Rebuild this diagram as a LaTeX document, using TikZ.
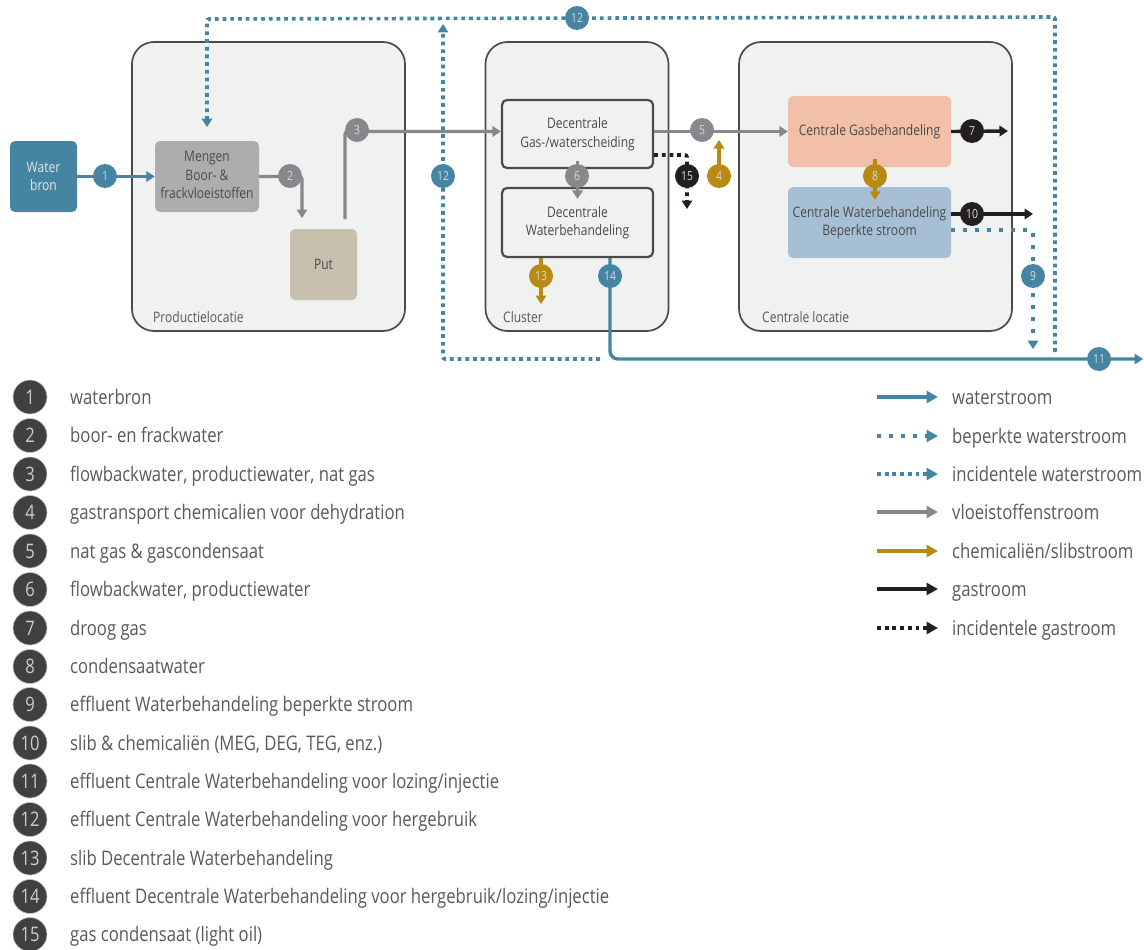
\documentclass[tikz,border=0pt]{standalone}
\usepackage{fontspec}
\setmainfont[FakeStretch=0.83]{Open Sans}
\usetikzlibrary{arrows.meta,calc}
\definecolor{wtr}{HTML}{4585A3}
\definecolor{gry}{HTML}{86888B}
\definecolor{gld}{HTML}{B98A13}
\definecolor{blk}{HTML}{231F20}
\definecolor{dkc}{HTML}{3F4042}
\definecolor{pane}{HTML}{F0F2F1}
\definecolor{edge}{HTML}{4A4A4A}
\definecolor{txt}{HTML}{58595B}
\definecolor{putc}{HTML}{C8BFAE}
\definecolor{gasc}{HTML}{F2BFA8}
\definecolor{wbc}{HTML}{A7BFD4}
\tikzset{
  x=1pt,y=-1pt,
  tip/.style={-{Triangle[length=8.5pt,width=10.5pt]}},
  bigtip/.style={-{Triangle[length=11.5pt,width=12pt]}},
  solidflow/.style={tip,line width=3.4pt,rounded corners=3pt},
  wflow/.style={solidflow,draw=wtr},
  gflow/.style={solidflow,draw=gry},
  cflow/.style={solidflow,draw=gld},
  bflow/.style={solidflow,draw=blk},
  incid/.style={tip,line width=3.6pt,dash pattern=on 3.8pt off 3.9pt,rounded corners=2pt},
  limited/.style={tip,line width=3.6pt,dash pattern=on 3.6pt off 8.4pt,rounded corners=2pt},
  iwflow/.style={incid,draw=wtr},
  ibflow/.style={incid,draw=blk},
  lwflow/.style={limited,draw=wtr},
  legline/.style={line width=4pt,bigtip},
  pane/.style={draw=edge,fill=pane,line width=1.7pt,rounded corners=22pt,inner sep=0pt},
  panelabel/.style={anchor=base west,text=txt,font=\fontsize{14.5}{18}\selectfont,inner sep=0pt},
  boxtext/.style={inner sep=0pt,align=center,text=edge,font=\fontsize{14.5}{18.5}\selectfont},
  fillbox/.style={boxtext,rounded corners=5pt},
  outline/.style={boxtext,draw=edge,line width=2.2pt,rounded corners=5pt,fill=pane},
  flow/.style={circle,inner sep=0pt,minimum size=24pt,text=white!85!black,font=\fontsize{12.5}{14}\selectfont},
  lnum/.style={circle,inner sep=0pt,minimum size=34pt,fill=dkc,draw=gry!50,line width=.6pt,text=white!80!black,font=\fontsize{20}{22}\selectfont},
  ltext/.style={anchor=west,inner sep=0pt,text=txt,text height=14pt,text depth=4pt,font=\fontsize{20.1}{22}\selectfont},
}
\begin{document}
\begin{tikzpicture}
\useasboundingbox (0,0) rectangle (1144,950);
% panes
\node[pane,minimum width=273pt,minimum height=289pt] (prod) at (268.5,186.5) {};
\node[pane,minimum width=183pt,minimum height=289pt] (clus) at (577,186.5) {};
\node[pane,minimum width=273pt,minimum height=289pt] (cent) at (875.5,186.5) {};
\node[panelabel] (lprod) at (153,322) {Productielocatie};
\node[panelabel] (lclus) at (503,322) {Cluster};
\node[panelabel] (lcent) at (762,322) {Centrale locatie};
% boxes
\node[fillbox,fill=wtr,text=white!90!black,minimum width=67pt,minimum height=71pt] (bron) at (43.5,176.5) {Water\\bron};
\node[fillbox,fill=black!32,minimum width=104pt,minimum height=71pt] (meng) at (207,176.5) {Mengen\\Boor- \&\\frackvloeistoffen\rule[-3pt]{0pt}{0pt}};
\node[fillbox,fill=putc,minimum width=67pt,minimum height=71pt] (put) at (323.5,264.5) {Put};
\node[outline,minimum width=151pt,minimum height=68pt] (gs) at (577.5,134) {Decentrale\\Gas-/waterscheiding};
\node[outline,minimum width=151pt,minimum height=69pt] (dw) at (577.5,222.5) {Decentrale\\Waterbehandeling};
\node[fillbox,fill=gasc,minimum width=163pt,minimum height=71pt] (gb) at (869.5,131.5) {Centrale Gasbehandeling};
\node[fillbox,fill=wbc,minimum width=163pt,minimum height=71pt] (wb) at (869.5,222.5) {Centrale Waterbehandeling\\Beperkte stroom};
% free ends
\coordinate (c2) at (302,218);
\coordinate (c3) at (345,219);
\coordinate (c4) at (719,140);
\coordinate (c7) at (1008,131);
\coordinate (c9) at (1033,349);
\coordinate (c10) at (1033,214);
\coordinate (c11) at (1143,359);
\coordinate (c13) at (541,304);
\coordinate (c15) at (687,209);
\coordinate (a12) at (1055,352);
\coordinate (b12) at (1055,17);
\coordinate (d12) at (207,19);
\coordinate (e12) at (207,127);
\coordinate (f12) at (600,359);
\coordinate (g12) at (443,359);
\coordinate (h12) at (443,24);
\coordinate (p4) at (719,176);
\coordinate (p14) at (610,276);
% connectors
\draw[wflow] (bron) -- (meng);
\draw[gflow] (meng.east) -| (c2);
\draw[gflow] (c3) |- (gs.west |- gb.west);
\draw[gflow] (gs.east |- gb.west) -- (gb.west);
\draw[gflow] ([yshift=8pt]gs.south) -- ([yshift=-12pt]dw.north);
\draw[ibflow] ([yshift=-21pt]gs.east) -| (c15);
\draw[cflow] (p4) -- (c4);
\draw[bflow] (gb.east) -- (c7);
\draw[cflow] ([xshift=5.5pt,yshift=8pt]gb.south) -- ([xshift=5.5pt,yshift=-13pt]wb.north);
\draw[bflow] (wb.east |- c10) -- (c10);
\draw[lwflow] ([yshift=-7.5pt]wb.east) -| (c9);
\draw[cflow] (dw.south -| c13) -- (c13);
\draw[wflow,rounded corners=8pt] (dw.south -| p14) |- (c11);
\draw[iwflow] (a12) -- (b12) -- (d12) -- (e12);
\draw[iwflow] (f12) -- (g12) -- (h12);
% flow badges
\node[flow,fill=wtr] (n1) at (105,176) {1};
\node[flow,fill=gry] (n2) at (290,176) {2};
\node[flow,fill=gry] (n3) at (357,130) {3};
\node[flow,fill=gld] (n4) at (p4) {4};
\node[flow,fill=gry] (n5) at (702,130) {5};
\node[flow,fill=gry] (n6) at (577,176) {6};
\node[flow,fill=blk] (n7) at (972,131) {7};
\node[flow,fill=gld] (n8) at (875,176) {8};
\node[flow,fill=wtr] (n9) at (1033,276) {9};
\node[flow,fill=blk] (n10) at (972,214) {10};
\node[flow,fill=wtr] (n11) at (1099,359) {11};
\node[flow,fill=wtr] (n12a) at (443,176) {12};
\node[flow,fill=wtr] (n12b) at (577,18) {12};
\node[flow,fill=gld] (n13) at (541,276) {13};
\node[flow,fill=wtr] (n14) at (p14) {14};
\node[flow,fill=blk] (n15) at (687,176) {15};
% numbered list
\foreach \i/\yy/\t in {
 1/397/{waterbron},
 2/435.5/{boor- en frackwater},
 3/474/{flowbackwater, productiewater, nat gas},
 4/512.5/{gastransport chemicalien voor dehydration},
 5/551/{nat gas \& gascondensaat},
 6/589.5/{flowbackwater, productiewater},
 7/628/{droog gas},
 8/666.5/{condensaatwater},
 9/704.5/{effluent Waterbehandeling beperkte stroom},
 10/743/{slib \& chemicaliën (MEG, DEG, TEG, enz.)},
 11/781/{effluent Centrale Waterbehandeling voor lozing/injectie},
 12/819.5/{effluent Centrale Waterbehandeling voor hergebruik},
 13/858/{slib Decentrale Waterbehandeling},
 14/896.5/{effluent Decentrale Waterbehandeling voor hergebruik/lozing/injectie},
 15/934.5/{gas condensaat (light oil)}}{
  \node[lnum] (k\i) at (30,\yy) {\i};
  \node[ltext] (t\i) at (70,\yy+2) {\t};
}
% line legend
\foreach \n/\yy/\t/\sty in {
 a/397/{waterstroom}/wflow,
 b/436/{beperkte waterstroom}/lwflow,
 c/474/{incidentele waterstroom}/iwflow,
 d/512/{vloeistoffenstroom}/gflow,
 e/551/{chemicaliën/slibstroom}/cflow,
 f/589/{gastroom}/bflow,
 g/628/{incidentele gastroom}/ibflow}{
  \node[ltext] (l\n) at (952,\yy+2) {\t};
  \coordinate (s\n) at (877,\yy);
  \coordinate (e\n) at (938,\yy);
  \draw[\sty,legline] (s\n) -- (e\n);
}
\end{tikzpicture}
\end{document}
